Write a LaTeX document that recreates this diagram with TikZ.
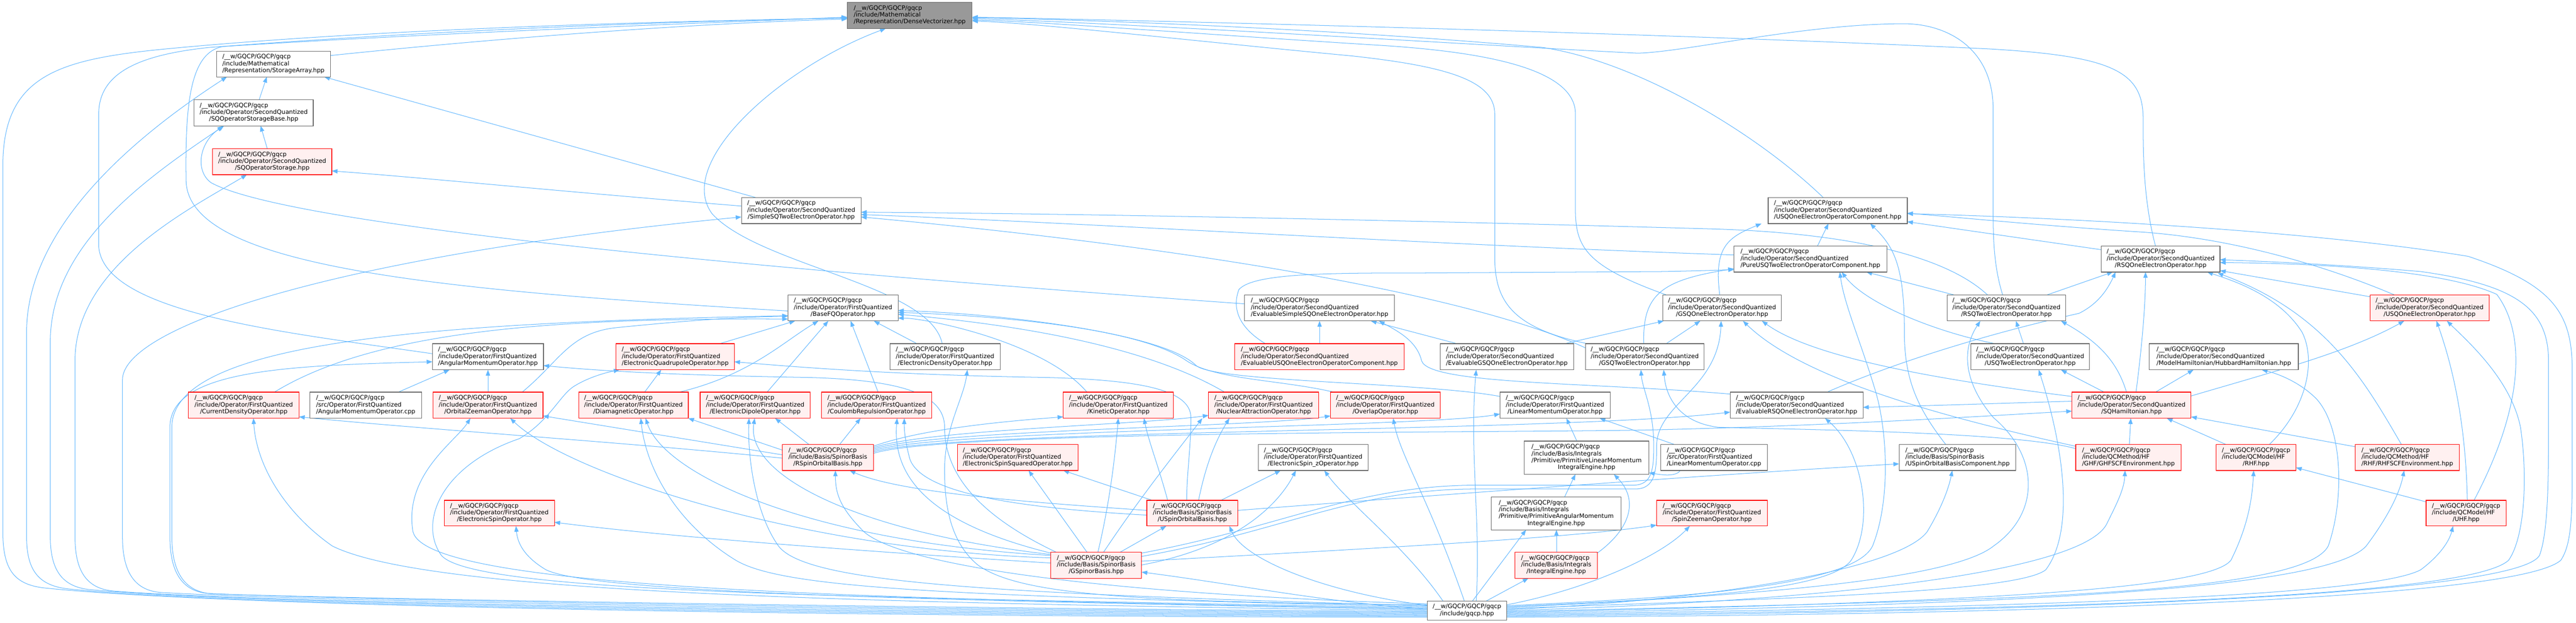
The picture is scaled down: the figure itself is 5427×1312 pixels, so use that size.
\documentclass[tikz,border=0pt]{standalone}
\usepackage{fontspec}
\setmainfont{DejaVu Sans}
\usetikzlibrary{arrows.meta}
\definecolor{eb}{HTML}{63B8FF}
\definecolor{gb}{HTML}{666666}
\definecolor{gf}{HTML}{999999}
\definecolor{rf}{HTML}{FFF0F0}
\definecolor{rb}{HTML}{FF0000}
\newcommand\pre{/\_\_w/GQCP/GQCP/gqcp}
\newcommand\lastc[1]{\multicolumn{1}{@{}c@{}}{#1}}
\newcommand\tl[2]{\begin{tabular}{@{}l@{}}\pre\\#1\\\lastc{#2}\end{tabular}}
\newcommand\fl[3]{\begin{tabular}{@{}l@{}}\pre\\#1\\#2\\\lastc{#3}\end{tabular}}
\newcommand\dl[1]{\begin{tabular}{@{}l@{}}\pre\\\lastc{#1}\end{tabular}}
\newcommand\nd[7]{\node[#1,minimum width={#4-#3},minimum height={#6-#5}] (#2) at ({(#3+#4)/2},{(#5+#6)/2}) {#7};}
\newcommand\opsq{/include/Operator/SecondQuantized}
\newcommand\opfq{/include/Operator/FirstQuantized}
\tikzset{
 nbase/.style={rectangle,inner sep=2pt,line width=1.3pt,font=\fontsize{12.7}{14.5}\selectfont},
 nw/.style={nbase,draw=gb,fill=white},
 nr/.style={nbase,draw=rb,fill=rf},
 ng/.style={nbase,draw=gb,fill=gf},
 e/.style={draw=eb,line width=1.1pt,-{Triangle[length=12pt,width=9pt]}},
}
\begin{document}
\begin{tikzpicture}[x=1pt,y=-1pt]
\useasboundingbox (0,0) rectangle (5427,1312);
\fill[white] (0,0) rectangle (5427,1312);
% ================= EDGES =================
% top chain
\draw[e] (696,117) .. controls (1100,75) and (1500,48) .. (1785,40);
\draw[e] (546,210) -- (562,162);
\draw[e] (563,313) -- (549,265);
\draw[e] (1592,416) -- (683,162);
\draw[e] (1562,434) .. controls (1200,405) and (900,375) .. (699,360);
\draw[e] (2622,640) .. controls (1500,560) and (600,470) .. (445,385) .. controls (410,360) and (420,300) .. (470,266);
\draw[e] (1660,655) .. controls (900,610) and (395,560) .. (392,380) .. controls (390,220) and (400,110) .. (470,98) .. controls (900,70) and (1500,48) .. (1785,36);
\draw[e] (1985,724) .. controls (1960,600) and (1600,560) .. (1500,450) .. controls (1420,340) and (1650,140) .. (1866,60);
\draw[e] (3510,621) .. controls (3340,560) and (3319,520) .. (3319,440) -- (3319,240) .. controls (3319,150) and (3150,110) .. (2900,95) .. controls (2500,70) and (2200,46) .. (2048,42);
\draw[e] (3345,724) .. controls (3180,690) and (3149,630) .. (3149,540) -- (3149,240) .. controls (3149,170) and (3050,140) .. (2850,118) .. controls (2500,85) and (2200,50) .. (2048,44);
\draw[e] (3841,416) .. controls (3700,280) and (3450,130) .. (3250,100) .. controls (2800,60) and (2300,42) .. (2048,37);
\draw[e] (4541,518) .. controls (4515,420) and (4515,320) .. (4515,250) .. controls (4515,150) and (4450,118) .. (4190,103) .. controls (3500,70) and (2500,45) .. (2048,36);
\draw[e] (4219,621) .. controls (4200,560) and (4199,500) .. (4199,440) -- (4199,230) .. controls (4199,100) and (4100,50) .. (4011,50) .. controls (3800,50) and (3550,110) .. (3450,112) .. controls (3200,100) and (2400,50) .. (2048,39);
\draw[e] (911,745) .. controls (600,700) and (220,660) .. (208,520) -- (208,240) .. controls (208,150) and (300,115) .. (440,100) .. controls (900,65) and (1400,45) .. (1785,38);
% gqcp left lanes
\draw[e] (3007,1300) .. controls (2000,1300) and (500,1282) .. (90,1238) .. controls (30,1230) and (6,1200) .. (6,1120) -- (6,350) .. controls (6,160) and (120,125) .. (350,103) .. controls (800,60) and (1400,45) .. (1785,38);
\draw[e] (3007,1298) .. controls (2000,1297) and (500,1279) .. (140,1240) .. controls (80,1232) and (56,1200) .. (56,1130) -- (56,700) .. controls (56,480) and (280,290) .. (478,162);
\draw[e] (3007,1296) .. controls (2000,1294) and (550,1276) .. (190,1242) .. controls (130,1236) and (106,1200) .. (106,1130) -- (106,720) .. controls (106,520) and (300,380) .. (472,265);
\draw[e] (3007,1294) .. controls (2000,1291) and (600,1273) .. (240,1245) .. controls (180,1240) and (158,1200) .. (158,1130) -- (158,760) .. controls (158,560) and (400,440) .. (520,368);
\draw[e] (3007,1292) .. controls (2000,1288) and (700,1269) .. (340,1248) .. controls (280,1244) and (258,1200) .. (258,1130) -- (258,800) .. controls (258,690) and (700,540) .. (1562,457);
\draw[e] (3007,1290) .. controls (2000,1285) and (800,1266) .. (440,1250) .. controls (380,1246) and (358,1200) .. (358,1130) -- (358,900) .. controls (358,780) and (600,770) .. (911,762);
\draw[e] (3007,1288) .. controls (2000,1282) and (820,1263) .. (450,1251) .. controls (385,1248) and (362,1200) .. (362,1130) -- (362,900) .. controls (362,720) and (900,680) .. (1660,665);
% gqcp left bundle
\draw[e] (3007,1286) .. controls (1800,1270) and (900,1250) .. (700,1150) .. controls (600,1080) and (540,980) .. (534,881);
\draw[e] (3007,1284) .. controls (2000,1265) and (1250,1250) .. (1150,1200) .. controls (1100,1170) and (1090,1140) .. (1087,1108);
\draw[e] (3007,1282) .. controls (1800,1262) and (900,1240) .. (870,1120) .. controls (850,1000) and (960,930) .. (991,881);
\draw[e] (3007,1280) .. controls (1800,1258) and (1000,1250) .. (930,1170) .. controls (880,1100) and (930,980) .. (1094,924) .. controls (1160,885) and (1180,830) .. (1212,812) .. controls (1240,795) and (1275,785) .. (1305,779);
\draw[e] (3007,1278) .. controls (2000,1255) and (1650,1240) .. (1550,1180) .. controls (1420,1100) and (1360,980) .. (1350,881);
\draw[e] (3007,1276) .. controls (2100,1250) and (1700,1230) .. (1640,1150) .. controls (1590,1080) and (1575,960) .. (1578,881);
\draw[e] (3007,1274) .. controls (2400,1268) and (2150,1255) .. (2060,1190) .. controls (2000,1140) and (1990,1060) .. (1990,990) .. controls (1990,900) and (2030,840) .. (2038,779);
\draw[e] (3007,1272) .. controls (2300,1250) and (1900,1190) .. (1820,1120) .. controls (1770,1070) and (1760,1040) .. (1760,991);
\draw[e] (3007,1283) .. controls (2800,1270) and (2600,1230) .. (2405,1205);
\draw[e] (3007,1275) .. controls (2800,1250) and (2620,1180) .. (2590,1108);
% gqcp top
\draw[e] (3085,1266) .. controls (3010,1050) and (2950,960) .. (2935,881);
\draw[e] (3040,1266) .. controls (2960,1150) and (2840,1060) .. (2790,991);
\draw[e] (3110,1266) .. controls (3120,1100) and (3095,950) .. (3110,779);
\draw[e] (3131,1266) -- (3220,1218);
\draw[e] (3102,1266) -- (3215,1116);
\draw[e] (3174,1274) .. controls (3350,1240) and (3500,1170) .. (3560,1108);
% gqcp right
\draw[e] (3174,1300) .. controls (4200,1296) and (5300,1265) .. (5395,1180) .. controls (5415,1150) and (5419,1100) .. (5419,1000) -- (5419,780) .. controls (5419,660) and (5380,600) .. (5200,540) .. controls (4900,490) and (4400,460) .. (4018,450);
\draw[e] (3174,1298) .. controls (4300,1290) and (5300,1255) .. (5350,1170) .. controls (5369,1120) and (5369,1000) .. (5369,900) -- (5369,760) .. controls (5369,650) and (5300,600) .. (5100,572) .. controls (4900,555) and (4750,550) .. (4677,547);
\draw[e] (3174,1296) .. controls (4300,1285) and (5200,1260) .. (5285,1180) .. controls (5320,1130) and (5325,1000) .. (5310,900) .. controls (5290,800) and (5200,720) .. (5155,676);
\draw[e] (3174,1294) .. controls (4300,1280) and (5000,1255) .. (5100,1200) .. controls (5140,1170) and (5160,1140) .. (5168,1108);
\draw[e] (3174,1292) .. controls (4200,1275) and (4900,1245) .. (4985,1150) .. controls (5030,1090) and (5055,1040) .. (5065,991);
\draw[e] (3174,1290) .. controls (4100,1270) and (4650,1245) .. (4700,1180) .. controls (4740,1100) and (4745,1040) .. (4748,991);
\draw[e] (3174,1288) .. controls (4200,1265) and (4850,1255) .. (4905,1150) .. controls (4940,1050) and (4935,900) .. (4880,840) .. controls (4840,800) and (4790,785) .. (4765,779);
\draw[e] (3174,1286) .. controls (3900,1265) and (4400,1200) .. (4440,1100) .. controls (4460,1060) and (4475,1030) .. (4477,991);
\draw[e] (3174,1284) .. controls (3600,1265) and (4000,1200) .. (4060,1120) .. controls (4090,1070) and (4105,1030) .. (4113,991);
\draw[e] (3174,1282) .. controls (3700,1262) and (4250,1250) .. (4310,1200) .. controls (4370,1120) and (4350,950) .. (4295,779);
\draw[e] (3174,1280) .. controls (3600,1258) and (4100,1230) .. (4200,1150) .. controls (4300,1080) and (4295,960) .. (4200,880) .. controls (4140,810) and (4130,740) .. (4172,676);
\draw[e] (3174,1278) .. controls (3500,1262) and (3850,1250) .. (3900,1180) .. controls (3950,1100) and (3925,950) .. (3845,881);
\draw[e] (3174,1276) .. controls (3450,1262) and (3900,1245) .. (3945,1150) .. controls (3985,1050) and (3975,900) .. (3950,820) .. controls (3920,720) and (3885,640) .. (3876,573);
% second quantized layer
\draw[e] (3829,518) -- (3852,471);
\draw[e] (3653,537) .. controls (3000,515) and (2300,470) .. (1814,452);
\draw[e] (4427,526) -- (4018,467);
\draw[e] (4116,621) -- (3932,573);
\draw[e] (4313,621) -- (4451,573);
\draw[e] (4187,621) .. controls (4100,540) and (3900,490) .. (3600,482) .. controls (3000,465) and (2300,450) .. (1814,447);
\draw[e] (4099,936) .. controls (4040,860) and (4012,800) .. (4012,700) .. controls (4012,560) and (3990,520) .. (3940,471);
\draw[e] (3623,621) .. controls (3610,520) and (3640,500) .. (3711,471);
\draw[e] (3510,724) -- (3582,676);
\draw[e] (3463,724) .. controls (3460,620) and (3500,590) .. (3653,566);
\draw[e] (3345,735) .. controls (3100,620) and (2500,520) .. (1814,457);
\draw[e] (3296,724) -- (3505,676);
\draw[e] (3070,724) -- (2888,676);
\draw[e] (2780,724) -- (2780,676);
\draw[e] (3645,830) .. controls (3350,805) and (3010,810) .. (2995,760) .. controls (2985,720) and (2950,700) .. (2905,676);
\draw[e] (3849,826) .. controls (4000,760) and (4200,700) .. (4380,660) .. controls (4420,640) and (4440,610) .. (4457,573);
\draw[e] (2666,724) .. controls (2610,690) and (2595,650) .. (2610,610) .. controls (2640,575) and (2800,575) .. (3000,575) -- (3500,572) .. controls (3560,571) and (3620,569) .. (3653,568);
\draw[e] (5044,621) .. controls (4900,560) and (4700,500) .. (4500,488) .. controls (4300,475) and (4150,460) .. (4018,449);
\draw[e] (4993,625) -- (4677,570);
\draw[e] (4204,724) .. controls (4080,700) and (3930,640) .. (3880,573);
\draw[e] (4263,724) -- (4247,676);
% hamiltonian / QC
\draw[e] (4541,826) -- (4621,779);
\draw[e] (4616,834) .. controls (4800,780) and (4950,740) .. (5065,676);
\draw[e] (4433,826) -- (4342,779);
\draw[e] (4480,826) .. controls (4460,760) and (4420,720) .. (4342,676);
\draw[e] (4500,826) .. controls (4510,750) and (4520,650) .. (4520,573);
\draw[e] (4365,845) .. controls (4200,850) and (4050,855) .. (3925,858);
\draw[e] (4365,835) .. controls (4000,790) and (3800,740) .. (3712,676);
\draw[e] (4486,936) -- (4489,881);
\draw[e] (4373,940) .. controls (4100,880) and (3800,800) .. (3672,676);
\draw[e] (4373,945) .. controls (4250,910) and (3800,905) .. (3620,900) .. controls (3540,890) and (3510,840) .. (3505,779);
\draw[e] (4689,936) -- (4565,881);
\draw[e] (4781,936) .. controls (4860,860) and (4880,760) .. (4850,700) .. controls (4800,620) and (4700,590) .. (4650,573);
\draw[e] (4962,941) -- (4616,878);
\draw[e] (5059,936) .. controls (4980,800) and (4900,660) .. (4672,575);
\draw[e] (5111,1057) -- (4837,985);
\draw[e] (5198,1054) .. controls (5195,900) and (5170,780) .. (5133,676);
\draw[e] (5212,1054) .. controls (5320,850) and (5320,700) .. (5260,620) .. controls (5150,570) and (4900,555) .. (4677,553);
% first quantized
\draw[e] (839,826) -- (947,779);
\draw[e] (1028,826) -- (1028,779);
\draw[e] (1100,826) .. controls (1180,760) and (1200,700) .. (1300,690) .. controls (1450,675) and (1550,668) .. (1660,666);
\draw[e] (1516,724) -- (1675,676);
\draw[e] (1358,826) -- (1393,779);
\draw[e] (1431,826) .. controls (1580,790) and (1650,720) .. (1724,676);
\draw[e] (1616,826) -- (1745,676);
\draw[e] (1850,826) -- (1792,676);
\draw[e] (578,826) .. controls (800,690) and (1200,670) .. (1660,672);
\draw[e] (2290,826) .. controls (2200,720) and (1950,670) .. (1892,670);
\draw[e] (2580,826) .. controls (2400,720) and (2100,680) .. (1892,662);
\draw[e] (2810,826) .. controls (2700,800) and (2560,800) .. (2500,760) .. controls (2400,690) and (2100,665) .. (1892,658);
\draw[e] (3160,835) .. controls (3000,805) and (2560,805) .. (2520,770) .. controls (2450,700) and (2100,660) .. (1892,654);
\draw[e] (1932,724) -- (1841,676);
\draw[e] (3322,929) -- (3300,881);
\draw[e] (3527,936) -- (3370,881);
\draw[e] (3540,991) .. controls (3530,1005) and (3500,1000) .. (3474,996);
\draw[e] (3296,1047) -- (3319,999);
\draw[e] (3279,1163) -- (3279,1116);
\draw[e] (3365,1165) .. controls (3440,1110) and (3450,1050) .. (3400,999);
% basis: R
\draw[e] (1704,936) -- (1633,881);
\draw[e] (1769,936) -- (1813,881);
\draw[e] (1648,948) -- (1450,881);
\draw[e] (1648,958) -- (1144,876);
\draw[e] (1648,965) .. controls (1300,930) and (900,905) .. (630,878);
\draw[e] (1840,940) .. controls (1950,900) and (2150,885) .. (2240,878);
\draw[e] (1840,943) .. controls (1950,905) and (2400,895) .. (2546,875);
\draw[e] (1840,946) .. controls (1960,905) and (2650,900) .. (2803,876);
\draw[e] (1840,949) .. controls (1970,905) and (3000,900) .. (3160,872);
\draw[e] (1840,952) .. controls (1980,905) and (3300,910) .. (3645,868);
\draw[e] (1840,955) .. controls (1990,905) and (3250,912) .. (3500,905) .. controls (3900,895) and (4200,875) .. (4365,866);
% basis: U
\draw[e] (2608,1075) .. controls (3000,1045) and (3600,1000) .. (4001,977);
\draw[e] (2428,1054) -- (2240,991);
\draw[e] (2572,1054) -- (2698,991);
\draw[e] (2460,1054) .. controls (2440,980) and (2420,930) .. (2410,881);
\draw[e] (2525,1054) .. controls (2540,980) and (2560,930) .. (2590,881);
\draw[e] (2416,1075) .. controls (2200,1060) and (1900,1040) .. (1790,991);
\draw[e] (2416,1085) .. controls (2150,1070) and (1930,1040) .. (1915,960) .. controls (1905,920) and (1905,900) .. (1905,881);
\draw[e] (2500,1054) .. controls (2500,1000) and (2509,940) .. (2509,880) .. controls (2509,820) and (2400,800) .. (2200,795) .. controls (1900,790) and (1700,775) .. (1547,762);
% basis: G
\draw[e] (2360,1163) -- (2457,1108);
\draw[e] (2290,1163) -- (2167,991);
\draw[e] (2325,1163) .. controls (2400,1050) and (2480,950) .. (2533,881);
\draw[e] (2313,1163) .. controls (2340,1050) and (2350,950) .. (2356,881);
\draw[e] (2214,1186) .. controls (1800,1160) and (1400,1130) .. (1168,1100);
\draw[e] (2405,1182) .. controls (2800,1160) and (3300,1135) .. (3490,1106);
\draw[e] (2214,1175) .. controls (1700,1160) and (1200,1000) .. (1075,881);
\draw[e] (2214,1170) .. controls (1700,1140) and (1400,1000) .. (1360,881);
\draw[e] (2214,1168) .. controls (1800,1120) and (1570,1000) .. (1590,881);
\draw[e] (2214,1165) .. controls (1950,1100) and (1880,1000) .. (1890,881);
\draw[e] (2405,1190) .. controls (2620,1150) and (2700,1050) .. (2730,991);
\draw[e] (2225,1163) .. controls (2050,1080) and (1990,990) .. (1990,900) .. controls (1990,830) and (1900,800) .. (1700,795) .. controls (1400,790) and (1250,780) .. (1145,770);
\draw[e] (2405,1165) .. controls (2700,1110) and (2850,1025) .. (3100,1022) -- (3440,1022) .. controls (3480,1022) and (3484,990) .. (3484,940) .. controls (3484,860) and (3460,820) .. (3457,779);
\draw[e] (2405,1172) .. controls (2700,1120) and (2850,1032) .. (3100,1030) -- (3445,1030) .. controls (3488,1030) and (3490,990) .. (3490,940) .. controls (3490,850) and (3620,820) .. (3626,676);
% ================= NODES =================
\nd{ng}{dv}{1785}{2048}{5}{60}{\tl{/include/Mathematical}{/Representation/DenseVectorizer.hpp}}
\nd{nw}{sa}{456}{696}{108}{162}{\tl{/include/Mathematical}{/Representation/StorageArray.hpp}}
\nd{nw}{sqsb}{409}{660}{210}{265}{\tl{\opsq}{/SQOperatorStorageBase.hpp}}
\nd{nr}{sqs}{448}{699}{313}{368}{\tl{\opsq}{/SQOperatorStorage.hpp}}
\nd{nw}{sstwo}{1562}{1814}{416}{471}{\tl{\opsq}{/SimpleSQTwoElectronOperator.hpp}}
\nd{nw}{usqoc}{3725}{4018}{416}{471}{\tl{\opsq}{/USQOneElectronOperatorComponent.hpp}}
\nd{nw}{pusqtc}{3653}{3975}{518}{573}{\tl{\opsq}{/PureUSQTwoElectronOperatorComponent.hpp}}
\nd{nw}{rsqone}{4427}{4677}{518}{573}{\tl{\opsq}{/RSQOneElectronOperator.hpp}}
\nd{nw}{bfq}{1660}{1892}{621}{676}{\tl{\opfq}{/BaseFQOperator.hpp}}
\nd{nw}{esone}{2622}{2938}{621}{676}{\tl{\opsq}{/EvaluableSimpleSQOneElectronOperator.hpp}}
\nd{nw}{gsqone}{3503}{3753}{621}{676}{\tl{\opsq}{/GSQOneElectronOperator.hpp}}
\nd{nw}{rsqtwo}{4102}{4352}{621}{676}{\tl{\opsq}{/RSQTwoElectronOperator.hpp}}
\nd{nr}{usqone}{4993}{5244}{621}{676}{\tl{\opsq}{/USQOneElectronOperator.hpp}}
\nd{nw}{amh}{911}{1145}{724}{779}{\tl{\opfq}{/AngularMomentumOperator.hpp}}
\nd{nr}{equad}{1298}{1547}{724}{779}{\tl{\opfq}{/ElectronicQuadrupoleOperator.hpp}}
\nd{nw}{edens}{1875}{2107}{724}{779}{\tl{\opfq}{/ElectronicDensityOperator.hpp}}
\nd{nr}{eusqoc}{2601}{2958}{724}{779}{\tl{\opsq}{/EvaluableUSQOneElectronOperatorComponent.hpp}}
\nd{nw}{egsqone}{3034}{3315}{724}{779}{\tl{\opsq}{/EvaluableGSQOneElectronOperator.hpp}}
\nd{nw}{gsqtwo}{3340}{3590}{724}{779}{\tl{\opsq}{/GSQTwoElectronOperator.hpp}}
\nd{nw}{usqtwo}{4152}{4402}{724}{779}{\tl{\opsq}{/USQTwoElectronOperator.hpp}}
\nd{nw}{hubbard}{4528}{4842}{724}{779}{\tl{\opsq}{/ModelHamiltonian/HubbardHamiltonian.hpp}}
\nd{nr}{cdo}{397}{630}{826}{881}{\tl{\opfq}{/CurrentDensityOperator.hpp}}
\nd{nw}{amcpp}{653}{888}{826}{881}{\tl{/src/Operator/FirstQuantized}{/AngularMomentumOperator.cpp}}
\nd{nr}{oz}{912}{1144}{826}{881}{\tl{\opfq}{/OrbitalZeemanOperator.hpp}}
\nd{nr}{dia}{1219}{1450}{826}{881}{\tl{\opfq}{/DiamagneticOperator.hpp}}
\nd{nr}{edip}{1475}{1707}{826}{881}{\tl{\opfq}{/ElectronicDipoleOperator.hpp}}
\nd{nr}{coul}{1731}{1963}{826}{881}{\tl{\opfq}{/CoulombRepulsionOperator.hpp}}
\nd{nr}{kin}{2240}{2472}{826}{881}{\tl{\opfq}{/KineticOperator.hpp}}
\nd{nr}{nuc}{2546}{2778}{826}{881}{\tl{\opfq}{/NuclearAttractionOperator.hpp}}
\nd{nr}{ovl}{2803}{3034}{826}{881}{\tl{\opfq}{/OverlapOperator.hpp}}
\nd{nw}{lmh}{3160}{3392}{826}{881}{\tl{\opfq}{/LinearMomentumOperator.hpp}}
\nd{nw}{ersqone}{3645}{3925}{826}{881}{\tl{\opsq}{/EvaluableRSQOneElectronOperator.hpp}}
\nd{nr}{sqham}{4365}{4616}{826}{881}{\tl{\opsq}{/SQHamiltonian.hpp}}
\nd{nr}{rsob}{1648}{1840}{936}{991}{\tl{/include/Basis/SpinorBasis}{/RSpinOrbitalBasis.hpp}}
\nd{nr}{ess}{2017}{2271}{936}{991}{\tl{\opfq}{/ElectronicSpinSquaredOperator.hpp}}
\nd{nw}{eszo}{2651}{2882}{936}{991}{\tl{\opfq}{/ElectronicSpin\_zOperator.hpp}}
\nd{nw}{plm}{3211}{3474}{929}{999}{\fl{/include/Basis/Integrals}{/Primitive/PrimitiveLinearMomentum}{IntegralEngine.hpp}}
\nd{nw}{lmcpp}{3499}{3723}{936}{991}{\tl{/src/Operator/FirstQuantized}{/LinearMomentumOperator.cpp}}
\nd{nw}{usobc}{4001}{4247}{936}{991}{\tl{/include/Basis/SpinorBasis}{/USpinOrbitalBasisComponent.hpp}}
\nd{nr}{ghfscf}{4373}{4595}{936}{991}{\tl{/include/QCMethod/HF}{/GHF/GHFSCFEnvironment.hpp}}
\nd{nr}{rhf}{4669}{4837}{936}{991}{\tl{/include/QCModel/HF}{/RHF.hpp}}
\nd{nr}{rhfscf}{4962}{5181}{936}{991}{\tl{/include/QCMethod/HF}{/RHF/RHFSCFEnvironment.hpp}}
\nd{nr}{eso}{936}{1168}{1054}{1108}{\tl{\opfq}{/ElectronicSpinOperator.hpp}}
\nd{nr}{usob}{2416}{2608}{1054}{1108}{\tl{/include/Basis/SpinorBasis}{/USpinOrbitalBasis.hpp}}
\nd{nw}{pam}{3142}{3415}{1047}{1116}{\fl{/include/Basis/Integrals}{/Primitive/PrimitiveAngularMomentum}{IntegralEngine.hpp}}
\nd{nr}{sz}{3490}{3723}{1054}{1108}{\tl{\opfq}{/SpinZeemanOperator.hpp}}
\nd{nr}{uhf}{5111}{5280}{1054}{1108}{\tl{/include/QCModel/HF}{/UHF.hpp}}
\nd{nr}{gsb}{2214}{2405}{1163}{1218}{\tl{/include/Basis/SpinorBasis}{/GSpinorBasis.hpp}}
\nd{nr}{ie}{3192}{3365}{1163}{1218}{\tl{/include/Basis/Integrals}{/IntegralEngine.hpp}}
\nd{nw}{gqcp}{3007}{3174}{1266}{1306}{\dl{/include/gqcp.hpp}}
\end{tikzpicture}
\end{document}
